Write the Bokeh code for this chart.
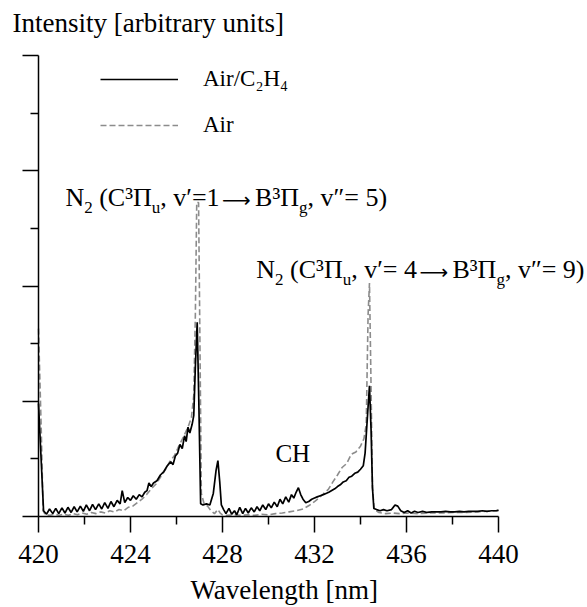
from bokeh.plotting import figure
from bokeh.models import Range1d, FixedTicker, Legend, LegendItem, Label
from bokeh.embed import file_html
from bokeh.resources import INLINE

# ---------------- data ----------------
# Air/C2H4 (solid black)
wl_mix = [420.00, 420.22, 420.35, 420.48, 420.62, 420.75, 420.88, 421.02, 421.15, 421.28,
          421.42, 421.55, 421.68, 421.82, 421.95, 422.08, 422.22, 422.35, 422.48, 422.62,
          422.75, 422.88, 423.02, 423.15, 423.28, 423.42, 423.55, 423.64, 423.75, 423.88,
          424.00, 424.12, 424.25, 424.38, 424.50, 424.62, 424.72, 424.80, 424.90, 425.00,
          425.15, 425.30, 425.45, 425.60, 425.75, 425.85, 425.95, 426.05, 426.15, 426.25,
          426.35, 426.42, 426.50, 426.58, 426.68, 426.75, 426.82, 426.90, 426.97, 427.05,
          427.15, 427.30, 427.45, 427.60, 427.72, 427.80, 427.88, 427.95, 428.05, 428.15,
          428.28, 428.40, 428.52, 428.62, 428.75, 428.88, 429.00, 429.12, 429.25, 429.38,
          429.50, 429.62, 429.75, 429.88, 430.00, 430.12, 430.25, 430.38, 430.50, 430.62,
          430.75, 430.88, 431.00, 431.10, 431.20, 431.30, 431.40, 431.50, 431.62, 431.75,
          431.88, 432.00, 432.12, 432.25, 432.38, 432.50, 432.62, 432.75, 432.88, 433.00,
          433.12, 433.25, 433.38, 433.50, 433.62, 433.75, 433.88, 434.00, 434.12, 434.20,
          434.28, 434.39, 434.46, 434.52, 434.58, 434.70, 434.85, 435.00, 435.15, 435.35,
          435.50, 435.62, 435.75, 435.90, 436.05, 436.20, 436.35, 436.50, 436.70, 436.90,
          437.10, 437.30, 437.50, 437.70, 437.90, 438.10, 438.30, 438.50, 438.70, 438.90,
          439.10, 439.30, 439.50, 439.70, 439.90, 440.00]
int_mix = [1.96, 0.10, 0.04, 0.13, 0.05, 0.14, 0.05, 0.15, 0.06, 0.16,
           0.07, 0.17, 0.08, 0.18, 0.09, 0.20, 0.10, 0.21, 0.12, 0.22,
           0.13, 0.24, 0.14, 0.26, 0.17, 0.28, 0.22, 0.45, 0.24, 0.33,
           0.28, 0.36, 0.30, 0.38, 0.34, 0.42, 0.45, 0.58, 0.52, 0.58,
           0.62, 0.72, 0.78, 0.88, 0.95, 0.90, 1.05, 1.10, 1.25, 1.18,
           1.40, 1.30, 1.55, 1.45, 1.60, 1.75, 2.60, 3.37, 2.00, 0.22,
           0.20, 0.22, 0.20, 0.40, 0.80, 0.97, 0.60, 0.20, 0.12, 0.05,
           0.14, 0.04, 0.10, 0.03, 0.16, 0.05, 0.14, 0.06, 0.15, 0.08,
           0.17, 0.10, 0.20, 0.12, 0.22, 0.15, 0.25, 0.17, 0.30, 0.22,
           0.34, 0.25, 0.38, 0.32, 0.42, 0.50, 0.38, 0.30, 0.24, 0.26,
           0.30, 0.32, 0.34, 0.36, 0.38, 0.40, 0.42, 0.45, 0.48, 0.52,
           0.55, 0.60, 0.62, 0.68, 0.70, 0.75, 0.77, 0.82, 0.88, 1.10,
           1.60, 2.27, 1.50, 0.50, 0.14, 0.12, 0.10, 0.12, 0.10, 0.12,
           0.20, 0.18, 0.10, 0.07, 0.10, 0.06, 0.09, 0.07, 0.09, 0.07,
           0.08, 0.08, 0.08, 0.09, 0.08, 0.08, 0.09, 0.08, 0.09, 0.09,
           0.09, 0.10, 0.09, 0.10, 0.10, 0.11]

# Air (grey dashed)
wl_air = [420.00, 420.12, 420.20, 420.30, 420.50, 420.70, 420.90, 421.10, 421.30, 421.50,
          421.70, 421.90, 422.10, 422.30, 422.50, 422.70, 422.90, 423.10, 423.30, 423.50,
          423.70, 423.90, 424.10, 424.30, 424.50, 424.70, 424.90, 425.10, 425.30, 425.50,
          425.70, 425.90, 426.10, 426.30, 426.50, 426.65, 426.75, 426.82, 426.88, 426.96,
          427.02, 427.08, 427.20, 427.35, 427.50, 427.65, 427.80, 427.90, 428.00, 428.20,
          428.50, 428.80, 429.10, 429.40, 429.70, 430.00, 430.30, 430.60, 430.90, 431.20,
          431.50, 431.80, 432.00, 432.20, 432.40, 432.60, 432.80, 433.00, 433.20, 433.40,
          433.60, 433.80, 434.00, 434.15, 434.25, 434.33, 434.39, 434.45, 434.52, 434.60,
          434.80, 435.10, 435.40, 435.70, 436.00, 436.50, 437.00, 437.50, 438.00, 438.50,
          439.00, 439.50, 440.00]
int_air = [3.26, 1.50, 0.10, 0.03, 0.02, 0.04, 0.02, 0.04, 0.02, 0.05,
           0.03, 0.06, 0.04, 0.07, 0.05, 0.08, 0.06, 0.10, 0.08, 0.12,
           0.10, 0.16, 0.18, 0.24, 0.30, 0.38, 0.48, 0.56, 0.68, 0.80,
           0.95, 1.05, 1.22, 1.38, 1.55, 1.72, 2.10, 3.50, 5.45, 5.45,
           3.00, 0.40, 0.22, 0.18, 0.10, 0.05, 0.12, 0.06, 0.03, 0.02,
           0.03, 0.02, 0.03, 0.02, 0.04, 0.03, 0.05, 0.06, 0.08, 0.10,
           0.13, 0.20, 0.26, 0.32, 0.40, 0.47, 0.60, 0.72, 0.85, 0.92,
           1.08, 1.12, 1.22, 1.35, 1.60, 3.50, 4.05, 2.50, 0.50, 0.12,
           0.07, 0.05, 0.06, 0.05, 0.06, 0.05, 0.06, 0.06, 0.07, 0.07,
           0.08, 0.09, 0.10]

x_ticks = [420, 424, 428, 432, 436, 440]
x_minor = [422, 426, 430, 434, 438]
y_ticks = [0, 2, 4, 6, 8]
y_minor = [1, 3, 5, 7]
x_tick_labels = ["420", "424", "428", "432", "436", "440"]

series_names = ["Air/C\u2082H\u2084", "Air"]
title_text = "Intensity [arbitrary units]"
xlabel_text = "Wavelength [nm]"

NB = "\u00a0"
# annotation texts: (piece, kind)
ann1 = [("N", "n"), ("2", "sub"), (NB + "(C\u00b3\u03a0", "n"), ("u", "sub"),
        (", v\u2032=1", "n"), ("\u27f6", "arrow"), ("B\u00b3\u03a0", "n"), ("g", "sub"),
        (", v\u2033=" + NB + "5)", "n")]
ann2 = [("N", "n"), ("2", "sub"), (NB + "(C\u00b3\u03a0", "n"), ("u", "sub"),
        (", v\u2032=" + NB + "4", "n"), ("\u27f6", "arrow"), ("B\u00b3\u03a0", "n"), ("g", "sub"),
        (", v\u2033=" + NB + "9)", "n")]
ann1_pos = (421.17, 5.36)
ann2_pos = (429.47, 4.11)
ch_text = "CH"
ch_pos = (430.30, 0.92)

# ---------------- figure ----------------
FONT = "Liberation Serif"
W, H = 587, 607
PX_X = 23.0      # pixels per nm
PX_Y = 57.625    # pixels per intensity unit
LEFT, BOTTOM = 38, 91   # frame offsets of the (420, 0) corner inside the canvas
BASE_FIX = 0.39  # label baseline correction, in em

x0 = 420 - LEFT / PX_X
x1 = 420 + (W - LEFT) / PX_X
y0 = -BOTTOM / PX_Y
y1 = (H - BOTTOM) / PX_Y

p = figure(width=W, height=H, x_range=Range1d(x0, x1), y_range=Range1d(y0, y1),
           output_backend="svg", toolbar_location=None,
           min_border_left=0, min_border_right=0, min_border_top=0, min_border_bottom=0)
p.title.visible = False
p.grid.visible = False
p.outline_line_color = None
p.background_fill_color = "white"
p.border_fill_color = "white"

xa = p.xaxis[0]
xa.fixed_location = 0
xa.bounds = (420, 440)
xa.ticker = FixedTicker(ticks=x_ticks, minor_ticks=x_minor)
ya = p.yaxis[0]
ya.fixed_location = 420
ya.bounds = (0, 8)
ya.ticker = FixedTicker(ticks=y_ticks, minor_ticks=y_minor)
for ax in (xa, ya):
    ax.axis_line_width = 1.5
    ax.axis_line_color = "black"
    ax.major_tick_line_width = 1.5
    ax.minor_tick_line_width = 1.5
    ax.major_tick_out = 16
    ax.major_tick_in = 0
    ax.minor_tick_out = 8
    ax.minor_tick_in = 0
xa.major_label_overrides = {t: "" for t in x_ticks}
ya.major_label_overrides = {t: "" for t in y_ticks}

r_air = p.line(wl_air, int_air, line_color="#8c8c8c", line_width=1.6, line_dash="6 3")
r_mix = p.line(wl_mix, int_mix, line_color="black", line_width=1.7)

legend = Legend(items=[LegendItem(label=series_names[0], renderers=[r_mix]),
                       LegendItem(label=series_names[1], renderers=[r_air])],
                location=(100, 467), glyph_width=78, glyph_height=30, label_height=30,
                label_standoff=25, spacing=16, padding=0, margin=0,
                border_line_color=None, background_fill_alpha=0,
                label_text_font=FONT, label_text_font_size="23px", label_text_color="black")
p.add_layout(legend, "center")


def text(x, y, s, size, dx=0, dy=0, align="left", font=FONT):
    p.add_layout(Label(x=x, y=y, x_offset=dx, y_offset=dy + BASE_FIX * size, text=s,
                       text_font=font, text_font_size=f"{size}px", text_baseline="alphabetic",
                       text_align=align, text_color="black"))


# title (top left, above the y axis)
text(420, 8, title_text, 27, dx=-26, dy=22)
# x tick labels
for t, lab in zip(x_ticks, x_tick_labels):
    text(t, 0, lab, 27, dy=-48, align="center")
# x axis title
text(420, 0, xlabel_text, 27, dx=152, dy=-84)

EM = {' ': 0.25, NB: 0.25, '(': 0.333, ')': 0.333, ',': 0.25, '=': 0.564, 'N': 0.722, 'C': 0.667,
      'B': 0.667, '\u03a0': 0.722, 'v': 0.5, 'u': 0.5, 'g': 0.5, '\u2032': 0.275,
      '\u2033': 0.46, '\u2192': 1.0, '\u00b3': 0.3}


def rich(pos, pieces, size=26, sub=17, arrow=20):
    off = 0.0
    for txt, kind in pieces:
        if kind == "arrow":
            off += 1
            text(pos[0], pos[1], txt, arrow, dx=off, font="DejaVu Sans")
            off += 1.6 * arrow + 1
            continue
        fs = sub if kind == "sub" else size
        text(pos[0], pos[1], txt, fs, dx=off, dy=-6 if kind == "sub" else 0)
        off += sum(EM.get(c, 0.5) for c in txt) * fs


rich(ann1_pos, ann1)
rich(ann2_pos, ann2)
text(ch_pos[0], ch_pos[1], ch_text, 25)

open("out.html", "w").write(file_html(p, INLINE))
